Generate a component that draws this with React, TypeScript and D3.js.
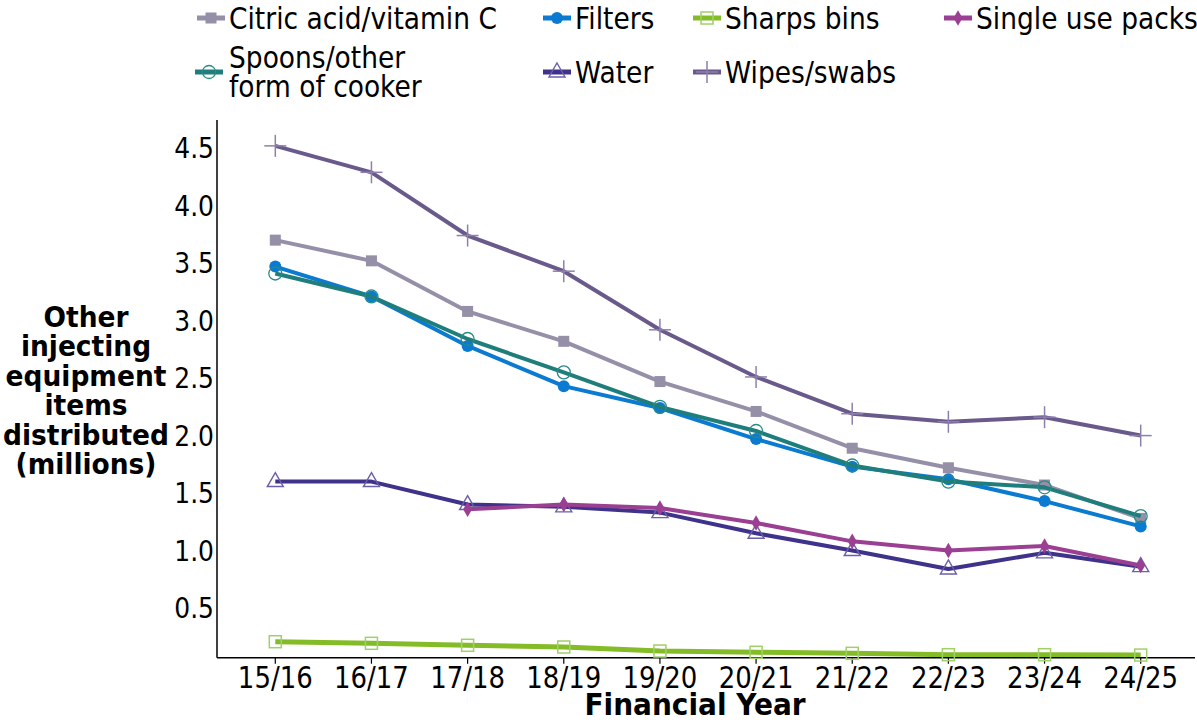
import React from "react";
import * as d3 from "d3";

const years = ["15/16", "16/17", "17/18", "18/19", "19/20", "20/21", "21/22", "22/23", "23/24", "24/25"];
const yTicks = [0.5, 1.0, 1.5, 2.0, 2.5, 3.0, 3.5, 4.0, 4.5];

const citric = [3.70, 3.52, 3.08, 2.82, 2.47, 2.21, 1.89, 1.72, 1.57, 1.28];
const filters = [3.47, 3.21, 2.78, 2.43, 2.24, 1.97, 1.73, 1.62, 1.43, 1.21];
const sharps = [0.207, 0.193, 0.176, 0.161, 0.126, 0.115, 0.106, 0.094, 0.094, 0.091];
const singleUse = [null, null, 1.36, 1.40, 1.37, 1.24, 1.08, 1.00, 1.04, 0.87];
const spoons = [3.41, 3.21, 2.84, 2.55, 2.25, 2.04, 1.74, 1.60, 1.55, 1.30];
const water = [1.60, 1.60, 1.40, 1.38, 1.33, 1.15, 1.00, 0.84, 0.98, 0.86];
const wipes = [4.52, 4.29, 3.74, 3.43, 2.92, 2.51, 2.19, 2.12, 2.16, 2.00];

type Mk = "fsquare" | "fcircle" | "hsquare" | "diamond" | "hcircle" | "htriangle" | "plus";
interface S { name: string[]; values: (number | null)[]; color: string; mcolor: string; marker: Mk; }

const series: S[] = [
  { name: ["Citric acid/vitamin C"], values: citric, color: "#958fa8", mcolor: "#958fa8", marker: "fsquare" },
  { name: ["Filters"], values: filters, color: "#0b7ad1", mcolor: "#0b7ad1", marker: "fcircle" },
  { name: ["Sharps bins"], values: sharps, color: "#84bc27", mcolor: "#9fd06a", marker: "hsquare" },
  { name: ["Water"], values: water, color: "#3e328a", mcolor: "#6a60a8", marker: "htriangle" },
  { name: ["Single use packs"], values: singleUse, color: "#9b3f93", mcolor: "#9b3f93", marker: "diamond" },
  { name: ["Spoons/other", "form of cooker"], values: spoons, color: "#1f7e7b", mcolor: "#2a8a86", marker: "hcircle" },
  { name: ["Wipes/swabs"], values: wipes, color: "#6a5a8b", mcolor: "#8d80ad", marker: "plus" },
];

const legendOrder = [
  { idx: 0, x: 197, y: 18 },
  { idx: 1, x: 543, y: 18 },
  { idx: 2, x: 693, y: 18 },
  { idx: 4, x: 944, y: 18 },
  { idx: 5, x: 195, y: 72 },
  { idx: 3, x: 543, y: 72 },
  { idx: 6, x: 693, y: 72 },
];

const FONT = "'DejaVu Sans', sans-serif";

function T(props: { x: number; y: number; anchor?: string; size: number; weight?: string; sy?: number; children: React.ReactNode }) {
  return (
    <text
      transform={`translate(${props.x},${props.y}) scale(1,${props.sy ?? 1.15})`}
      textAnchor={props.anchor || "start"}
      dominantBaseline="central"
      fontSize={props.size}
      fontWeight={props.weight || "normal"}
      fontFamily={FONT}
      fill="#000"
    >
      {props.children}
    </text>
  );
}

function Marker({ type, x, y, color }: { type: Mk; x: number; y: number; color: string }) {
  switch (type) {
    case "fsquare":
      return <rect x={x - 5.5} y={y - 5.5} width={11} height={11} fill={color} />;
    case "fcircle":
      return <circle cx={x} cy={y} r={6} fill={color} />;
    case "hsquare":
      return <rect x={x - 6} y={y - 6} width={12} height={12} fill="none" stroke={color} strokeWidth={1.5} />;
    case "diamond":
      return <path d={d3.symbol(d3.symbolDiamond, 70)()!} transform={`translate(${x},${y})`} fill={color} />;
    case "hcircle":
      return <circle cx={x} cy={y} r={6.5} fill="none" stroke={color} strokeWidth={1.3} />;
    case "htriangle":
      return <path d={`M${x},${y - 9}L${x + 8},${y + 5}L${x - 8},${y + 5}Z`} fill="none" stroke={color} strokeWidth={1.4} />;
    case "plus":
      return (
        <g stroke={color} strokeWidth={1.5}>
          <line x1={x - 11} x2={x + 11} y1={y} y2={y} />
          <line x1={x} x2={x} y1={y - 11} y2={y + 11} />
        </g>
      );
  }
  return null;
}

export default function App() {
  const W = 1197, H = 722;
  const x0 = 217, x1 = 1195, yTop = 120, yBot = 657.7;
  const x = d3.scalePoint<string>().domain(years).range([275.3, 1140.7]);
  const y = d3.scaleLinear().domain([0.068, 4.745]).range([yBot, yTop]);

  const line = d3
    .line<number | null>()
    .defined((d) => d !== null)
    .x((_, i) => x(years[i])!)
    .y((d) => y(d as number));

  return (
    <div style={{ position: "absolute", left: 0, top: 0 }}>
      <svg width={W} height={H} style={{ display: "block", background: "#fff" }}>
        <defs>
          <clipPath id="plotclip">
            <rect x={x0} y={0} width={x1 - x0} height={yBot - 0.5} />
          </clipPath>
        </defs>
        {/* axes */}
        <line x1={x0} x2={x0} y1={yTop} y2={yBot} stroke="#000" strokeWidth={1.5} />
        <line x1={x0} x2={x1} y1={yBot} y2={yBot} stroke="#000" strokeWidth={1.5} />
        {years.map((yr) => (
          <g key={yr}>
            <line x1={x(yr)} x2={x(yr)} y1={yBot} y2={yBot + 6} stroke="#000" strokeWidth={1.2} />
            <T x={x(yr)!} y={678} anchor="middle" size={26}>{yr}</T>
          </g>
        ))}
        {yTicks.map((t) => (
          <T key={t} x={214} y={y(t)} anchor="end" size={25}>{t.toFixed(1)}</T>
        ))}
        <T x={695} y={705} anchor="middle" size={28} weight="bold" sy={1.05}>Financial Year</T>
        {["Other", "injecting", "equipment", "items", "distributed", "(millions)"].map((s, i) => (
          <T key={s} x={86} y={317 + i * 29.4} anchor="middle" size={26.5} weight="bold" sy={1.1}>{s}</T>
        ))}

        {/* series */}
        {series.map((s, si) => (
          <g key={si}>
            <path d={line(s.values)!} fill="none" stroke={s.color} strokeWidth={s.marker === "hsquare" ? 5 : 4} strokeLinejoin="round" clipPath="url(#plotclip)" />
            {s.values.map((v, i) =>
              v === null ? null : <Marker key={i} type={s.marker} x={x(years[i])!} y={y(v)} color={s.mcolor} />
            )}
          </g>
        ))}

        {/* legend */}
        {legendOrder.map(({ idx, x: lx, y: ly }) => {
          const s = series[idx];
          return (
            <g key={idx}>
              <line x1={lx} x2={lx + 28} y1={ly} y2={ly} stroke={s.color} strokeWidth={5} />
              <Marker type={s.marker} x={lx + 14} y={ly} color={s.mcolor} />
              {s.name.length === 1 ? (
                <T x={lx + 32} y={ly} size={26.5}>{s.name[0]}</T>
              ) : (
                s.name.map((n, k) => (
                  <T key={k} x={lx + 34} y={ly - 15 + k * 29} size={26.5}>{n}</T>
                ))
              )}
            </g>
          );
        })}
      </svg>
    </div>
  );
}
